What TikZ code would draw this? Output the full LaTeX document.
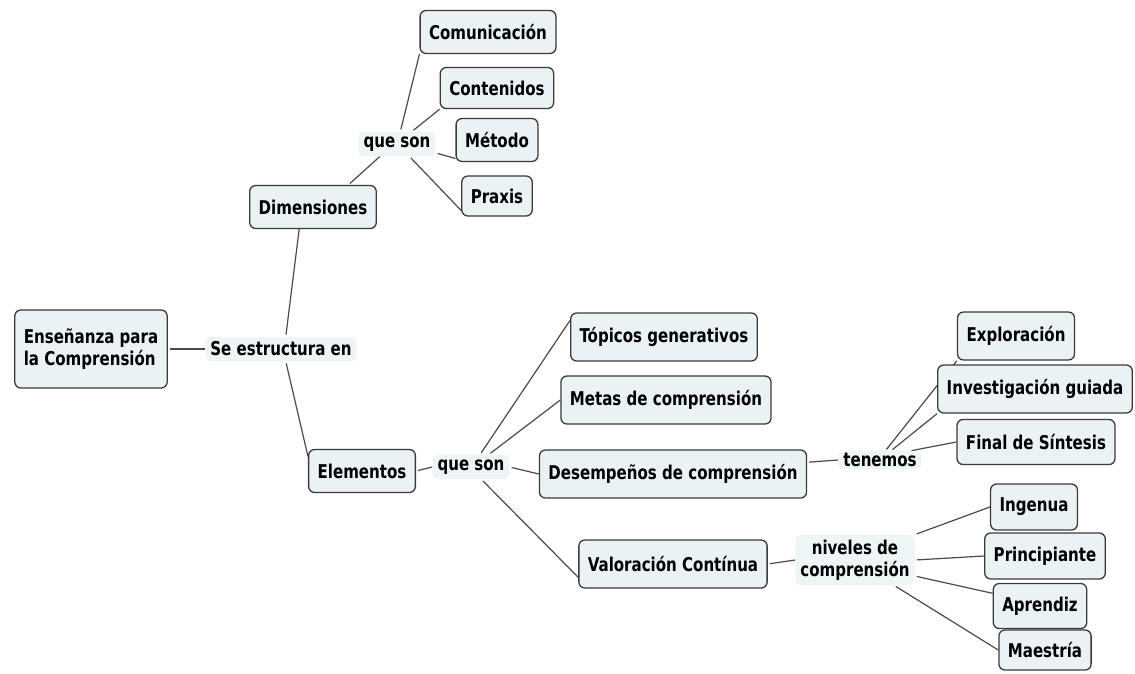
\documentclass[tikz,border=0pt]{standalone}
\usepackage{fontspec}
\setmainfont{DejaVu Sans Condensed}[FakeStretch=0.88]
\usetikzlibrary{positioning,backgrounds}
\definecolor{boxfill}{HTML}{EAF2F5}
\definecolor{boxline}{HTML}{3A3A3A}
\definecolor{linkline}{HTML}{4A4A4A}
\tikzstyle{concepto} = [draw=boxline, fill=boxfill, line width=1.3pt, rounded corners=6pt, inner xsep=9pt, minimum height=43pt, font=\fontsize{19}{22}\selectfont\bfseries]
\tikzstyle{grande} = [minimum height=48pt]
\tikzstyle{enlace} = [fill=boxfill!80, rounded corners=6pt, inner xsep=5pt, inner ysep=5pt, font=\fontsize{19}{22}\selectfont\bfseries]
\tikzstyle{rama} = [draw=linkline, line width=1.2pt, shorten <=2pt]
\begin{document}
\begin{tikzpicture}[x=1pt,y=-1pt]
\useasboundingbox (0,0) rectangle (1135,673);
% raiz
\node[concepto, align=left, minimum height=78pt] (ens) at (91,349) {Enseñanza para\\la Comprensión};
\node[enlace] (se) at (281,349) {Se estructura en};
% dimensiones
\node[concepto] (dim) at (313,207) {Dimensiones};
\node[enlace] (qsA) at (397,144) {que son};
\node[concepto] (com) at (488,32) {Comunicación};
\node[concepto, minimum height=41pt] (con) at (497,88) {Contenidos};
\node[concepto] (met) at (497,140) {Método};
\node[concepto, minimum height=40pt] (pra) at (497,196) {Praxis};
% elementos
\node[concepto] (ele) at (362,471) {Elementos};
\node[enlace] (qsB) at (471,467) {que son};
\node[concepto, grande] (top) at (664,337) {Tópicos generativos};
\node[concepto, grande] (met2) at (666,400) {Metas de comprensión};
\node[concepto, grande] (des) at (673,474) {Desempeños de comprensión};
\node[concepto, grande] (val) at (673,564) {Valoración Contínua};
% desempenos
\node[enlace, inner ysep=2pt] (ten) at (880,460) {tenemos};
\node[concepto, grande] (exp) at (1016,336) {Exploración};
\node[concepto, grande] (inv) at (1035,389) {Investigación guiada};
\node[concepto, minimum height=45pt] (fin) at (1036,442) {Final de Síntesis};
% niveles
\node[enlace, align=center] (niv) at (855,560) {niveles de\\comprensión};
\node[concepto, minimum height=46pt] (ing) at (1034,507) {Ingenua};
\node[concepto, minimum height=46pt] (pri) at (1045,556) {Principiante};
\node[concepto, minimum height=45pt] (apr) at (1040,606) {Aprendiz};
\node[concepto, minimum height=40pt] (mae) at (1045,650) {Maestría};
\begin{scope}[on background layer]
\draw[rama] (ens.east) -- (se.west);
\draw[rama] (se.69) -- (dim.238);
\draw[rama] (se.291) -- (ele.165);
\draw[rama] (dim.32) -- (qsA.216);
\draw[rama] (qsA.75) -- (com.south west);
\draw[rama] (qsA.40) -- (con.south west);
\draw[rama] (qsA.347) -- (met.204);
\draw[rama] (qsA.315) -- (pra.202);
\draw[rama] (ele.east) -- (qsB.west);
\draw[rama] (qsB.54) -- (top.170);
\draw[rama] (qsB.35) -- (met2.west);
\draw[rama] (qsB.east) -- (des.west);
\draw[rama] (qsB.310) -- (val.188);
\draw[rama] (des.5) -- (ten.west);
\draw[rama] (ten.60) -- (exp.south west);
\draw[rama] (ten.40) -- (inv.south west);
\draw[rama] (ten.17) -- (fin.west);
\draw[rama] (val.east) -- (niv.west);
\draw[rama] (niv.23) -- (ing.west);
\draw[rama] (niv.east) -- (pri.west);
\draw[rama] (niv.345) -- (apr.165);
\draw[rama] (niv.327) -- (mae.west);
\end{scope}
\end{tikzpicture}
\end{document}
